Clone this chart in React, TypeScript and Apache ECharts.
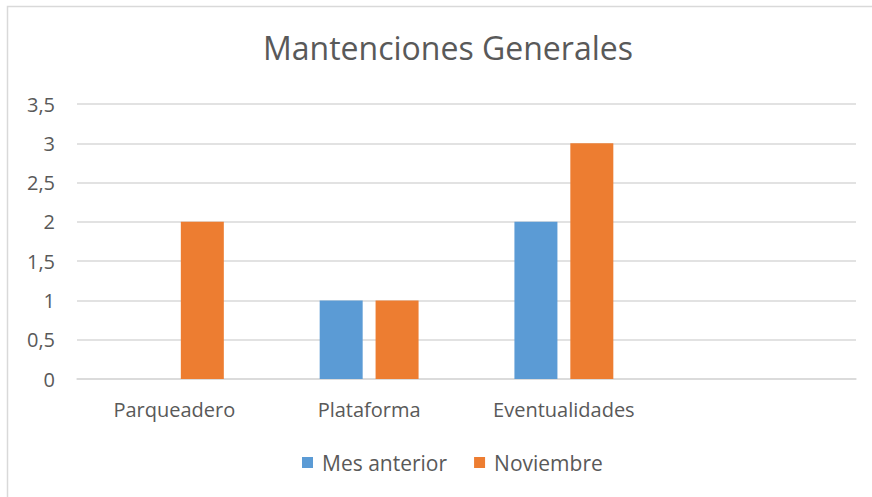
import React, { useEffect, useRef } from "react";
import * as echarts from "echarts";

const categories = ["Parqueadero", "Plataforma", "Eventualidades", ""];
const mesAnterior = [0, 1, 2, null];
const noviembre = [2, 1, 3, null];
const seriesNames = ["Mes anterior", "Noviembre"];
const titleText = "Mantenciones Generales";

const FONT = "'Open Sans', 'Noto Sans', sans-serif";
const TEXT = "#595959";

export default function App() {
  const ref = useRef<HTMLDivElement>(null);
  useEffect(() => {
    if (!ref.current) return;
    const chart = echarts.init(ref.current, undefined, { renderer: "svg" });
    chart.setOption({
      animation: false,
      backgroundColor: "#ffffff",
      textStyle: { fontFamily: FONT },
      title: {
        text: titleText,
        left: 258,
        top: 26,
        textStyle: { fontFamily: FONT, fontSize: 32, fontWeight: "normal", color: TEXT },
      },
      graphic: [
        {
          type: "rect",
          shape: { x: 7.5, y: 6.5, width: 900, height: 600 },
          style: { fill: "none", stroke: "#d9d9d9", lineWidth: 1.5 },
          silent: true,
        },
      ],
      legend: {
        data: seriesNames,
        bottom: 19,
        left: 297,
        itemWidth: 11,
        itemHeight: 11,
        itemGap: 27,
        icon: "rect",
        textStyle: { fontFamily: FONT, fontSize: 21, color: TEXT, padding: [0, 0, 0, 4] },
      },
      grid: { left: 77, right: 16, top: 104, bottom: 118, containLabel: false },
      xAxis: {
        type: "category",
        data: categories,
        axisLine: { show: true, lineStyle: { color: "#d9d9d9", width: 1.5 } },
        axisTick: { show: false },
        axisLabel: { fontFamily: FONT, fontSize: 20, color: TEXT, margin: 20 },
      },
      yAxis: {
        type: "value",
        min: 0,
        max: 3.5,
        interval: 0.5,
        axisLine: { show: false },
        axisTick: { show: false },
        splitLine: { lineStyle: { color: "#d9d9d9", width: 1.5 } },
        axisLabel: {
          fontFamily: FONT,
          fontSize: 20,
          color: TEXT,
          margin: 22,
          formatter: (v: number) => String(v).replace(".", ","),
        },
      },
      series: [
        {
          name: seriesNames[0],
          type: "bar",
          data: mesAnterior,
          barWidth: 43,
          barGap: "30%",
          itemStyle: { color: "#5B9BD5" },
        },
        {
          name: seriesNames[1],
          type: "bar",
          data: noviembre,
          barWidth: 43,
          barGap: "30%",
          itemStyle: { color: "#ED7D31" },
        },
      ],
    });
    return () => chart.dispose();
  }, []);
  return (
    <div style={{ position: "absolute", left: 0, top: 0, width: 872, height: 497, overflow: "hidden", background: "#fff" }}>
      <div ref={ref} style={{ width: 872, height: 497 }} />
    </div>
  );
}
